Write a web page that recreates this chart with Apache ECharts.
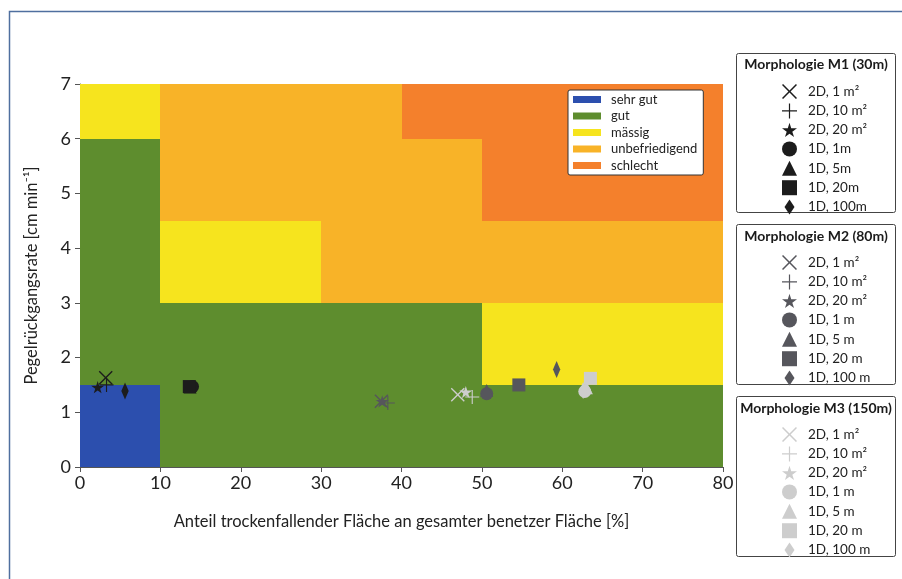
<!DOCTYPE html>
<html><head><meta charset="utf-8">
<script src="https://cdn.jsdelivr.net/npm/echarts@6/dist/echarts.min.js"></script>
<style>html,body{margin:0;padding:0;background:#fff}#c{width:902px;height:579px}</style>
</head><body><div id="c"></div>
<script>
// Zone rectangles: [x0, x1, y0, y1]
const zoneNames = ['sehr gut', 'gut', 'mässig', 'unbefriedigend', 'schlecht'];
const zoneSehrGut = [[0, 10, 0, 1.5]];
const zoneGut = [[0, 10, 1.5, 6], [10, 50, 0, 3], [50, 80, 0, 1.5]];
const zoneMaessig = [[0, 10, 6, 7], [10, 30, 3, 4.5], [50, 80, 1.5, 3]];
const zoneUnbefr = [[10, 40, 4.5, 7], [40, 50, 4.5, 6], [30, 50, 3, 4.5], [50, 80, 3, 4.5]];
const zoneSchlecht = [[40, 80, 6, 7], [50, 80, 4.5, 6]];

// Markers
const m1Labels = ['2D, 1 m²', '2D, 10 m²', '2D, 20 m²', '1D, 1m', '1D, 5m', '1D, 20m', '1D, 100m'];
const m2Labels = ['2D, 1 m²', '2D, 10 m²', '2D, 20 m²', '1D, 1 m', '1D, 5 m', '1D, 20 m', '1D, 100 m'];
const m3Labels = ['2D, 1 m²', '2D, 10 m²', '2D, 20 m²', '1D, 1 m', '1D, 5 m', '1D, 20 m', '1D, 100 m'];
const m1X = [3.2, 3.3, 2.2, 14.0, 13.7, 13.6, 5.6];
const m1Y = [1.63, 1.5, 1.46, 1.47, 1.46, 1.47, 1.39];
const m2X = [37.5, 38.3, 37.6, 50.6, 50.6, 54.6, 59.3];
const m2Y = [1.2, 1.17, 1.2, 1.34, 1.4, 1.5, 1.78];
const m3X = [47.0, 48.8, 48.0, 62.8, 63.0, 63.5, 62.6];
const m3Y = [1.32, 1.28, 1.37, 1.38, 1.45, 1.62, 1.4];

const xTicks = [0, 10, 20, 30, 40, 50, 60, 70, 80];
const yTicks = [0, 1, 2, 3, 4, 5, 6, 7];

const FONT = 'Lato';
const zoneColors = ['#2c4fae', '#5e8d2e', '#f6e41e', '#f8b328', '#f4802c'];
const groupColors = ['#1c1c1c', '#56565c', '#cdcdcd'];
const symX = 'path://M0,7 L7,0 L50,43 L93,0 L100,7 L57,50 L100,93 L93,100 L50,57 L7,100 L0,93 L43,50 Z';
const symPlus = 'path://M46,0 H54 V46 H100 V54 H54 V100 H46 V54 H0 V46 H46 Z';
const symStar = 'path://M50,0 L61,35 L98,35 L68,57 L79,91 L50,70 L21,91 L32,57 L2,35 L39,35 Z';
const symDiamond = 'path://M6,0 L12,9 L6,18 L0,9 Z';
const symbols = [symX, symPlus, symStar, 'circle', 'triangle', 'rect', symDiamond];
const sizes = [14, 14, 13, 13, 13, 13, [11, 17]];

const zones = [zoneSehrGut, zoneGut, zoneMaessig, zoneUnbefr, zoneSchlecht];
const series = [];
zones.forEach((z, i) => {
  series.push({
    name: zoneNames[i], type: 'custom', z: 1,
    itemStyle: { color: zoneColors[i] },
    encode: { x: [0, 1], y: [2, 3] },
    data: z,
    silent: true,
    renderItem: function (params, api) {
      const p0 = api.coord([api.value(0), api.value(3)]);
      const p1 = api.coord([api.value(1), api.value(2)]);
      const x0 = Math.round(p0[0]), y0 = Math.round(p0[1]);
      const x1 = Math.round(p1[0]), y1 = Math.round(p1[1]);
      return { type: 'rect', shape: { x: x0, y: y0, width: x1 - x0, height: y1 - y0 }, style: { fill: zoneColors[i] } };
    }
  });
});
const groups = [['M1', m1Labels, m1X, m1Y], ['M2', m2Labels, m2X, m2Y], ['M3', m3Labels, m3X, m3Y]];
const legendNames = [[], [], []];
groups.forEach((g, gi) => {
  g[1].forEach((lab, k) => {
    const nm = g[0] + '|' + lab;
    legendNames[gi].push(nm);
    series.push({
      name: nm, type: 'scatter', z: 3 + (2 - gi),
      symbol: symbols[k], symbolSize: sizes[k], symbolKeepAspect: true,
      itemStyle: { color: groupColors[gi], opacity: 1 },
      data: [[g[2][k], g[3][k]]]
    });
  });
});

const legTop = [79, 250, 422];
const rightLegends = legendNames.map((names, i) => ({
  data: names, orient: 'vertical', left: 777, top: legTop[i],
  itemWidth: 15, itemHeight: 15, itemGap: 4.4, selectedMode: false,
  formatter: n => n.split('|')[1],
  textStyle: { fontFamily: FONT, fontSize: 13.5, color: '#222', padding: [0, 0, 0, 6] }
}));

const boxes = [[736.5, 53.5, 159, 159, 'Morphologie M1 (30m)', 64], [736.5, 224.5, 159, 160, 'Morphologie M2 (80m)', 236], [736.5, 396.5, 159, 160, 'Morphologie M3 (150m)', 408]];
const graphic = [{ type: 'rect', shape: { x: 9.5, y: 11.5, width: 900, height: 620 }, style: { fill: 'none', stroke: '#4f6f9f', lineWidth: 1.5 }, silent: true, z: 0 }];
boxes.forEach(b => {
  graphic.push({ type: 'rect', shape: { x: b[0], y: b[1], width: b[2], height: b[3], r: 2 }, style: { fill: '#fff', stroke: '#444', lineWidth: 1 }, z: 1 });
  graphic.push({ type: 'text', x: b[0] + b[2] / 2, y: b[5], style: { text: b[4], fill: '#1a1a1a', font: 'bold 14px ' + FONT, textAlign: 'center', textVerticalAlign: 'middle' }, z: 2 });
});

const chart = echarts.init(document.getElementById('c'), null, { renderer: 'canvas' });
chart.setOption({
  animation: false,
  backgroundColor: '#fff',
  textStyle: { fontFamily: FONT },
  grid: { left: 80, right: 179, top: 84, bottom: 112 },
  xAxis: {
    type: 'value', min: xTicks[0], max: xTicks[xTicks.length - 1], interval: 10,
    name: 'Anteil trockenfallender Fläche an gesamter benetzer Fläche [%]',
    nameLocation: 'middle', nameGap: 46,
    nameTextStyle: { fontFamily: FONT, fontSize: 16.5, color: '#222' },
    axisLine: { lineStyle: { color: '#555', width: 1 } },
    axisTick: { length: 5, lineStyle: { color: '#555' } },
    axisLabel: { fontFamily: FONT, fontSize: 18, color: '#222', margin: 7 },
    splitLine: { show: false }
  },
  yAxis: {
    type: 'value', min: yTicks[0], max: yTicks[yTicks.length - 1], interval: 1,
    name: 'Pegelrückgangsrate [cm min⁻¹]',
    nameLocation: 'middle', nameGap: 40,
    nameTextStyle: { fontFamily: FONT, fontSize: 16.5, color: '#222' },
    axisLine: { show: true, lineStyle: { color: '#555', width: 1 } },
    axisTick: { show: true, length: 5, lineStyle: { color: '#555' } },
    axisLabel: { fontFamily: FONT, fontSize: 18, color: '#222', margin: 9 },
    splitLine: { show: false }
  },
  legend: [{
    data: zoneNames, orient: 'vertical', left: 568, top: 90,
    icon: 'rect', itemWidth: 28, itemHeight: 7, itemGap: 3.5, selectedMode: false,
    backgroundColor: '#fff', borderColor: '#333', borderWidth: 1, borderRadius: 2,
    padding: [3, 6, 3, 5], z: 10,
    textStyle: { fontFamily: FONT, fontSize: 13, color: '#222', padding: [0, 0, 0, 5] }
  }].concat(rightLegends),
  graphic: graphic,
  series: series
});
</script></body></html>
